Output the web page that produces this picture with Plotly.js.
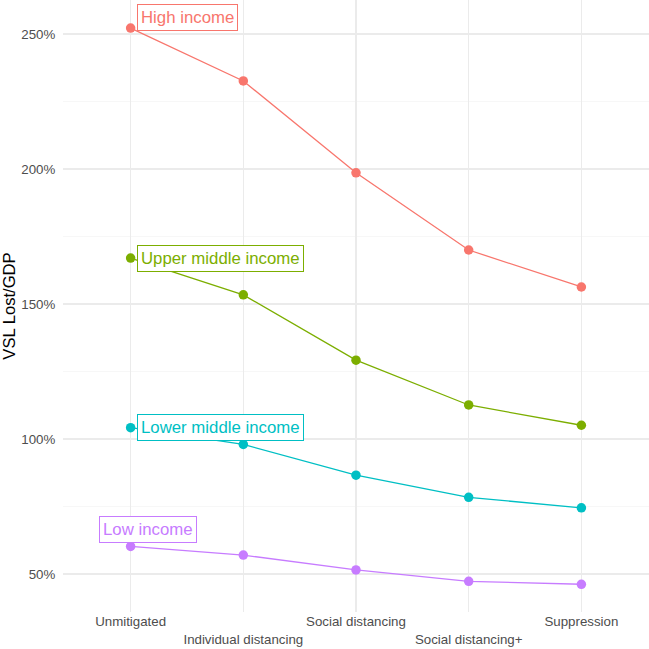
<!DOCTYPE html>
<html>
<head>
<meta charset="utf-8">
<script src="https://cdn.plot.ly/plotly-3.0.1.min.js"></script>
<style>
  html, body { margin: 0; padding: 0; background: #fff; }
  #vsl { width: 649px; height: 649px; }
</style>
</head>
<body>
<div id="vsl"></div>
<script>
var scenarios = ["Unmitigated", "Individual distancing", "Social distancing", "Social distancing+", "Suppression"];
var groups = ["High income", "Upper middle income", "Lower middle income", "Low income"];
var highIncome = [252.2, 232.6, 198.6, 170.0, 156.3];
var upperMiddle = [167.0, 153.4, 129.2, 112.6, 105.1];
var lowerMiddle = [104.2, 98.0, 86.6, 78.4, 74.5];
var lowIncome = [60.2, 57.0, 51.5, 47.3, 46.2];
var colors = ["#F8766D", "#7CAE00", "#00BFC4", "#C77CFF"];
var yTicks = [50, 100, 150, 200, 250];

var font = "Liberation Sans, Arial, Helvetica, sans-serif";

// every other tick label goes on a second line, like the staggered ggplot axis
var tickText = scenarios.map(function(s, i) {
  return i % 2 == 1 ? "<br>" + s : s;
});
var yText = yTicks.map(function(v) { return v + "%"; });

function serie(name, vals, col) {
  return {
    x: scenarios,
    y: vals,
    name: name,
    type: 'scatter',
    mode: 'lines+markers',
    line: {color: col, width: 1.3},
    marker: {color: col, size: 9.5},
    hoverinfo: 'x+y+name'
  };
}

var allVals = [highIncome, upperMiddle, lowerMiddle, lowIncome];
var data = [];
for (var i = 0; i < groups.length; i++) {
  data.push(serie(groups[i], allVals[i], colors[i]));
}

// label boxes next to the first point of each line
var shifts = [
  {xs: 6, ys: 10.5, anchor: 'left'},
  {xs: 6, ys: -0.5, anchor: 'left'},
  {xs: 6, ys: 0, anchor: 'left'},
  {xs: 17, ys: 16.5, anchor: 'center'}
];
var labels = groups.map(function(g, i) {
  return {
    x: scenarios[0],
    y: allVals[i][0],
    xref: 'x', yref: 'y',
    text: g,
    showarrow: false,
    xanchor: shifts[i].anchor,
    yanchor: 'middle',
    xshift: shifts[i].xs,
    yshift: shifts[i].ys,
    font: {family: font, size: 16.8, color: colors[i]},
    bgcolor: '#ffffff',
    bordercolor: colors[i],
    borderwidth: 1,
    borderpad: 3
  };
});

var layout = {
  width: 649,
  height: 649,
  margin: {l: 63, r: 0, t: 0, b: 37},
  paper_bgcolor: '#ffffff',
  plot_bgcolor: '#ffffff',
  showlegend: false,
  font: {family: font, size: 13.3, color: '#4D4D4D'},
  xaxis: {
    type: 'category',
    range: [-0.6, 4.6],
    tickvals: scenarios,
    ticktext: tickText,
    tickangle: 0,
    showgrid: true,
    gridcolor: '#EBEBEB',
    gridwidth: 1.1,
    zeroline: false,
    showline: false,
    ticks: '',
    tickfont: {family: font, size: 13.3, color: '#4D4D4D'}
  },
  yaxis: {
    range: [35.93, 262.59],
    tickvals: yTicks,
    ticktext: yText,
    showgrid: true,
    gridcolor: '#EBEBEB',
    gridwidth: 1.1,
    minor: {dtick: 50, tick0: 25, showgrid: true, gridcolor: '#F2F2F2', gridwidth: 0.6},
    zeroline: false,
    showline: false,
    ticks: 'outside',
    ticklen: 4,
    tickcolor: 'rgba(0,0,0,0)',
    tickfont: {family: font, size: 13.3, color: '#4D4D4D'},
    title: {text: 'VSL Lost/GDP', font: {family: font, size: 16.6, color: '#000000'}, standoff: 8}
  },
  annotations: labels
};

Plotly.newPlot('vsl', data, layout, {displayModeBar: false, staticPlot: true});
</script>
</body>
</html>
